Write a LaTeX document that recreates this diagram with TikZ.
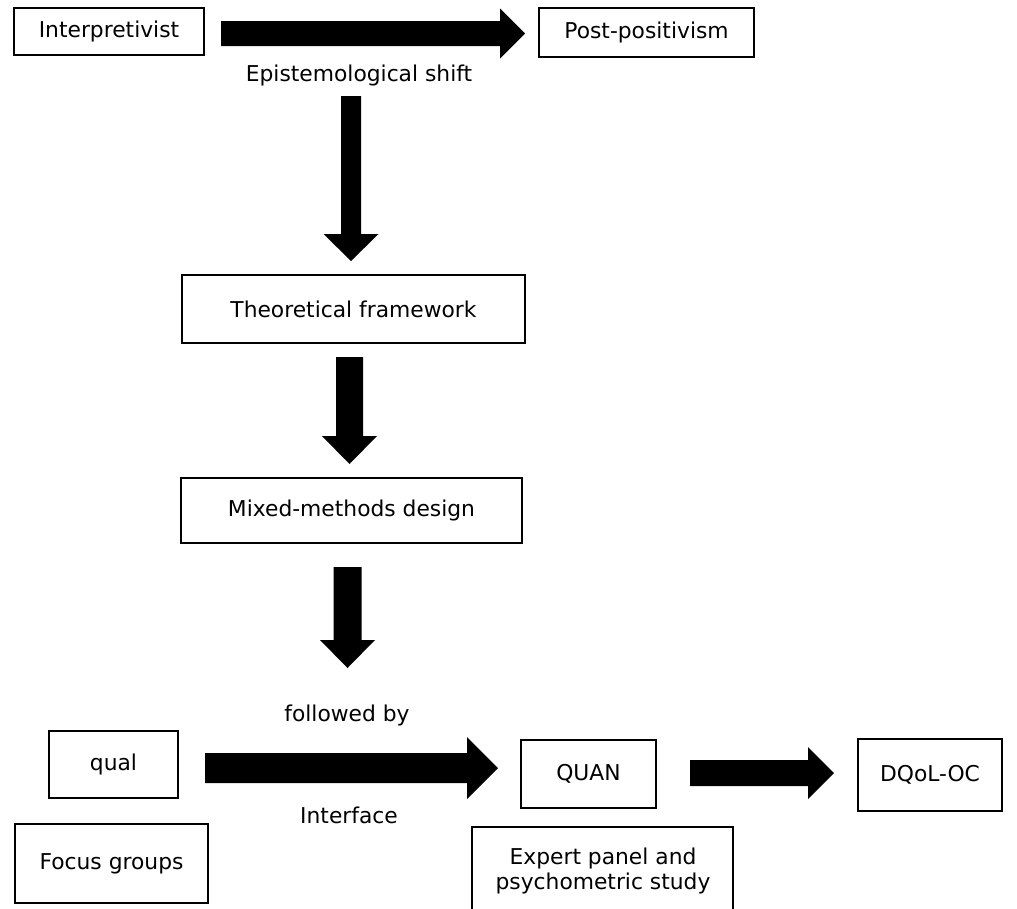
\documentclass[tikz,border=0pt]{standalone}
\usepackage{fontspec}
\setmainfont{DejaVu Sans}
% horizontal block arrow: start x, head base x, tip x, centre y, shaft half-height, head half-height
\newcommand{\harrow}[6]{\fill ({#1},{#4-#5}) -- ({#2},{#4-#5}) -- ({#2},{#4-#6}) -- ({#3},{#4})
  -- ({#2},{#4+#6}) -- ({#2},{#4+#5}) -- ({#1},{#4+#5}) -- cycle;}
% vertical block arrow: centre x, start y, head base y, tip y, shaft half-width, head half-width
\newcommand{\varrow}[6]{\fill ({#1-#5},{#2}) -- ({#1-#5},{#3}) -- ({#1-#6},{#3}) -- ({#1},{#4})
  -- ({#1+#6},{#3}) -- ({#1+#5},{#3}) -- ({#1+#5},{#2}) -- cycle;}
\begin{document}
\begin{tikzpicture}[x=1pt,y=-1pt,
  box/.style={draw, line width=2.2pt, align=center, inner sep=0pt,
    font=\fontsize{21.8}{25}\selectfont},
  lbl/.style={align=center, inner sep=0pt, font=\fontsize{21.8}{25}\selectfont}]
\useasboundingbox (0,0) rectangle (1017,908);

% boxes
\node[box, minimum width=190, minimum height=47] (interp) at (109,31.5) {Interpretivist};
\node[box, minimum width=215, minimum height=49] (postpos) at (646.5,32.5) {Post-positivism};
\node[box, minimum width=343, minimum height=68] (theory) at (353.5,309) {Theoretical framework};
\node[box, minimum width=341, minimum height=65] (mixed) at (351.5,510.5) {Mixed-methods design};
\node[box, minimum width=129, minimum height=67] (qual) at (113.5,764.5) {qual};
\node[box, minimum width=193, minimum height=79] (focus) at (111.5,863.5) {Focus groups};
\node[box, minimum width=135, minimum height=68] (quan) at (588.5,774) {QUAN};
\node[box, minimum width=144, minimum height=72] (dqol) at (930,775) {DQoL-OC};
\node[lbl] (expert) at (603,870.5) {Expert panel and\\psychometric study};
\draw[line width=2.2pt] (472,915) |- (733,827) -- (733,915);

% labels
\node[lbl] (shift) at (359,75) {Epistemological shift};
\node[lbl] (followed) at (347,715) {followed by};
\node[lbl] (iface) at (349,815) {Interface};

% block arrows
\harrow{221}{500}{525}{33.5}{12.5}{25}
\varrow{351}{96}{234}{261}{10}{27.5}
\varrow{349.5}{357}{436}{464}{13.5}{27.5}
\varrow{347.5}{567}{640}{668}{14}{27.5}
\harrow{205}{467}{498}{768}{15}{31}
\harrow{690}{808}{834}{773}{13}{26}
\end{tikzpicture}
\end{document}
